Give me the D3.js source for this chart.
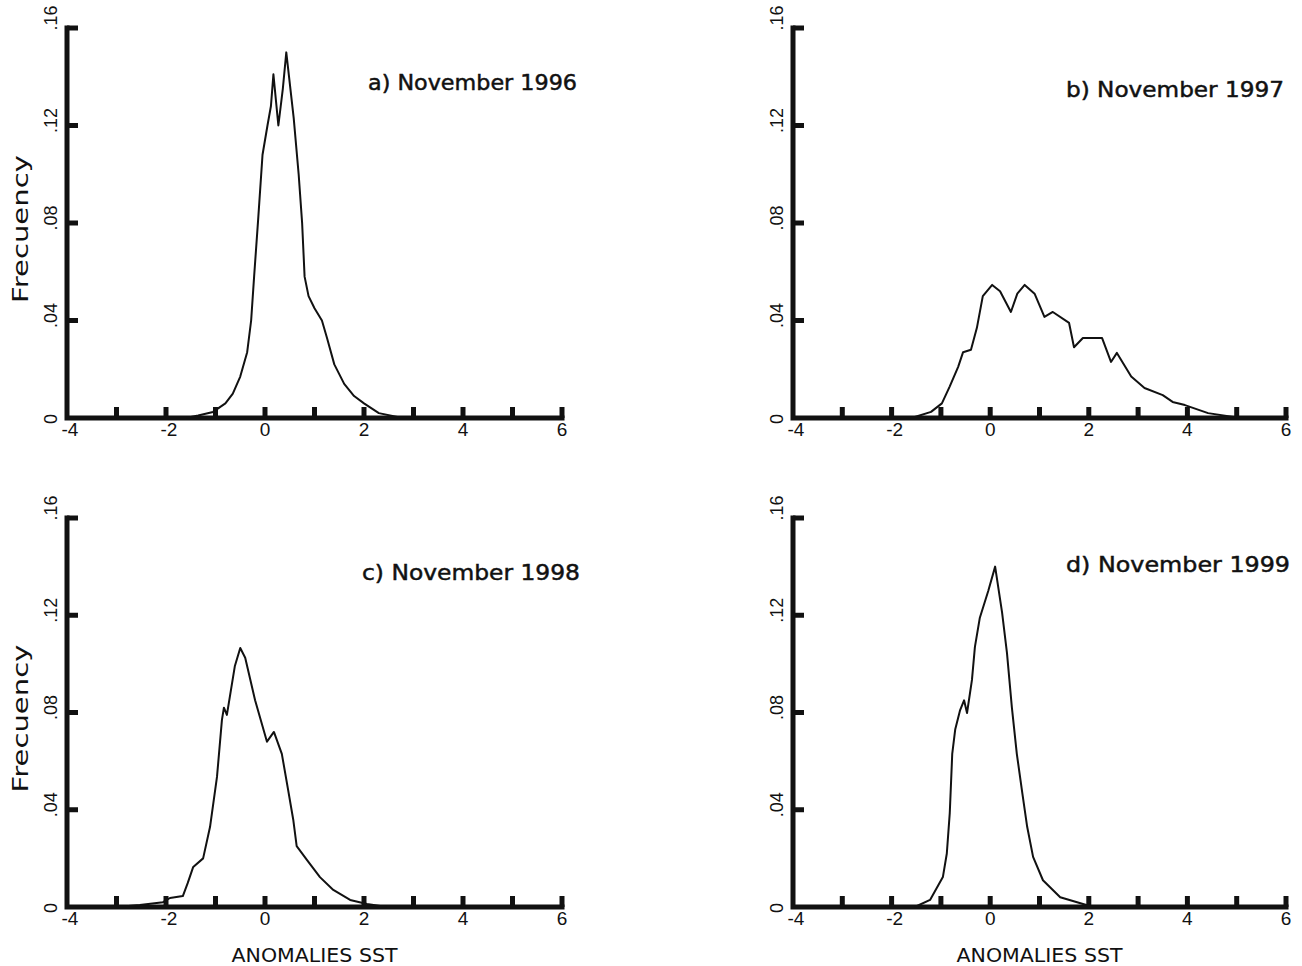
<!DOCTYPE html>
<html>
<head>
<meta charset="utf-8">
<script src="https://cdn.jsdelivr.net/npm/d3@7"></script>
<style>
  body { margin: 0; background: #fff; }
  svg { display: block; }
</style>
</head>
<body>
<svg id="chart" width="1302" height="966"></svg>
<script>
// ticks shared by all four panels
const xTicks = [-3, -2, -1, 0, 1, 2, 3, 4, 5, 6];
const xLabelValues = [-4, -2, 0, 2, 4, 6];
const yTicks = [0.04, 0.08, 0.12, 0.16];
const yLabelValues = [0, 0.04, 0.08, 0.12, 0.16];
const yTickLabels = ["0", ".04", ".08", ".12", ".16"];

const titles = ["a) November 1996", "b) November 1997", "c) November 1998", "d) November 1999"];

// a) November 1996
const anom1996 = [-3.0, -1.6, -1.35, -1.05, -0.8, -0.65, -0.5, -0.36, -0.28, -0.22, -0.14, -0.05, 0.05, 0.12, 0.17, 0.27, 0.36, 0.43, 0.58, 0.68, 0.75, 0.8, 0.88, 1.0, 1.15, 1.25, 1.4, 1.6, 1.8, 2.0, 2.3, 2.7, 3.0];
const freq1996 = [0, 0, 0.001, 0.0025, 0.006, 0.01, 0.017, 0.027, 0.04, 0.058, 0.081, 0.108, 0.12, 0.128, 0.141, 0.12, 0.135, 0.15, 0.123, 0.1, 0.08, 0.058, 0.05, 0.045, 0.04, 0.033, 0.022, 0.014, 0.009, 0.006, 0.002, 0.0003, 0];

// b) November 1997
const anom1997 = [-2.0, -1.53, -1.2, -0.98, -0.82, -0.65, -0.55, -0.39, -0.27, -0.15, 0.04, 0.2, 0.42, 0.55, 0.7, 0.9, 1.1, 1.27, 1.6, 1.7, 1.88, 2.27, 2.45, 2.57, 2.86, 3.13, 3.5, 3.7, 3.95, 4.42, 5.0];
const freq1997 = [0, 0.0004, 0.0025, 0.006, 0.013, 0.021, 0.027, 0.028, 0.037, 0.05, 0.0546, 0.052, 0.0435, 0.051, 0.0546, 0.051, 0.0415, 0.0435, 0.039, 0.029, 0.0328, 0.0328, 0.023, 0.0267, 0.017, 0.0123, 0.0094, 0.0066, 0.0053, 0.002, 0.0002];

// c) November 1998
const anom1998 = [-3.0, -2.53, -2.06, -1.92, -1.66, -1.56, -1.45, -1.25, -1.11, -0.97, -0.87, -0.83, -0.77, -0.61, -0.5, -0.4, -0.2, 0.04, 0.18, 0.34, 0.46, 0.57, 0.64, 0.85, 1.11, 1.38, 1.72, 2.06, 2.46];
const freq1998 = [0, 0.0008, 0.002, 0.0037, 0.0045, 0.0099, 0.0165, 0.02, 0.033, 0.0535, 0.077, 0.082, 0.079, 0.099, 0.1065, 0.1025, 0.085, 0.068, 0.072, 0.063, 0.049, 0.036, 0.025, 0.0193, 0.0123, 0.007, 0.0029, 0.0012, 0];

// d) November 1999
const anom1999 = [-1.53, -1.22, -0.96, -0.88, -0.82, -0.77, -0.71, -0.61, -0.53, -0.47, -0.37, -0.31, -0.21, -0.04, 0.1, 0.24, 0.34, 0.44, 0.54, 0.65, 0.75, 0.87, 1.07, 1.42, 2.02, 2.6];
const freq1999 = [0, 0.0029, 0.0123, 0.022, 0.0387, 0.063, 0.073, 0.081, 0.085, 0.0798, 0.0934, 0.107, 0.119, 0.13, 0.14, 0.1213, 0.1045, 0.082, 0.063, 0.047, 0.033, 0.0206, 0.011, 0.004, 0.0004, 0];

const svg = d3.select("#chart");
const INK = "#111";

const panels = [
  { xs: anom1996, ys: freq1996, left: 67, right: 562, top: 28, bottom: 418,
    title: { x: 368, y: 90, len: 209 }, ylabel: true, xlabel: false },
  { xs: anom1997, ys: freq1997, left: 793, right: 1286, top: 28, bottom: 418,
    title: { x: 1066, y: 97, len: 218 }, ylabel: false, xlabel: false },
  { xs: anom1998, ys: freq1998, left: 67, right: 562, top: 518, bottom: 907,
    title: { x: 362, y: 580, len: 218 }, ylabel: true, xlabel: true },
  { xs: anom1999, ys: freq1999, left: 793, right: 1286, top: 518, bottom: 907,
    title: { x: 1066, y: 572, len: 224 }, ylabel: false, xlabel: true }
];

panels.forEach((p, i) => drawPanel(p, titles[i]));

function drawPanel(p, title) {
  const x = d3.scaleLinear().domain([-4, 6]).range([p.left, p.right]);
  const y = d3.scaleLinear().domain([0, 0.16]).range([p.bottom, p.top]);
  const g = svg.append("g");

  // axis lines
  g.append("path")
    .attr("class", "axis")
    .attr("d", "M" + x(-4) + "," + y(0.16) + "V" + y(0) + "H" + x(6))
    .attr("fill", "none")
    .attr("stroke", INK)
    .attr("stroke-width", 5)
    .attr("stroke-linecap", "square");

  // x ticks pointing up
  g.selectAll("line.xtick")
    .data(xTicks)
    .join("line")
    .attr("class", "xtick")
    .attr("x1", d => x(d))
    .attr("x2", d => x(d))
    .attr("y1", y(0))
    .attr("y2", y(0) - 11)
    .attr("stroke", INK)
    .attr("stroke-width", 5);

  g.selectAll("text.xlab")
    .data(xLabelValues)
    .join("text")
    .attr("class", "xlab")
    .text(d => String(d))
    .attr("x", d => x(d) + (d < 0 ? 3 : 0))
    .attr("y", y(0) + 18)
    .attr("text-anchor", "middle")
    .style("font-family", "Liberation Sans, Arial, sans-serif")
    .style("font-size", "19px")
    .style("fill", INK);

  // y ticks pointing right
  g.selectAll("line.ytick")
    .data(yTicks)
    .join("line")
    .attr("class", "ytick")
    .attr("x1", x(-4))
    .attr("x2", x(-4) + 11)
    .attr("y1", d => y(d))
    .attr("y2", d => y(d))
    .attr("stroke", INK)
    .attr("stroke-width", 5);

  g.selectAll("text.ylab")
    .data(yLabelValues)
    .join("text")
    .attr("class", "ylab")
    .text((d, k) => yTickLabels[k])
    .attr("text-anchor", "middle")
    .attr("transform", d => "translate(" + (x(-4) - 10) + "," +
      (y(d) + (d == 0 ? 1 : d == 0.16 ? -10 : -5)) + ") rotate(-90)")
    .style("font-family", "Liberation Sans, Arial, sans-serif")
    .style("font-size", "18px")
    .style("fill", INK);

  const line = d3.line()
    .x(d => x(d[0]))
    .y(d => y(d[1]));

  g.append("path")
    .datum(d3.zip(p.xs, p.ys))
    .attr("d", line)
    .attr("fill", "none")
    .attr("stroke", INK)
    .attr("stroke-width", 2)
    .attr("stroke-linejoin", "round");

  g.append("text")
    .text(title)
    .attr("x", p.title.x)
    .attr("y", p.title.y)
    .attr("textLength", p.title.len)
    .attr("lengthAdjust", "spacingAndGlyphs")
    .style("font-family", "DejaVu Sans, sans-serif")
    .style("font-size", "22px")
    .style("fill", INK)
    .style("stroke", INK)
    .style("stroke-width", "0.5px");

  if (p.ylabel) {
    const cy = (p.top + p.bottom) / 2 + 6;
    g.append("text")
      .text("Frecuency")
      .attr("transform", "translate(28," + cy + ") rotate(-90)")
      .attr("text-anchor", "middle")
      .attr("textLength", 148)
      .attr("lengthAdjust", "spacingAndGlyphs")
      .style("font-family", "DejaVu Sans, sans-serif")
      .style("font-size", "21px")
      .style("fill", INK);
  }

  if (p.xlabel) {
    g.append("text")
      .text("ANOMALIES SST")
      .attr("x", (p.left + p.right) / 2)
      .attr("y", p.bottom + 55)
      .attr("text-anchor", "middle")
      .attr("textLength", 166)
      .attr("lengthAdjust", "spacingAndGlyphs")
      .style("font-family", "DejaVu Sans, sans-serif")
      .style("font-size", "19px")
      .style("fill", INK);
  }
}
</script>
</body>
</html>
